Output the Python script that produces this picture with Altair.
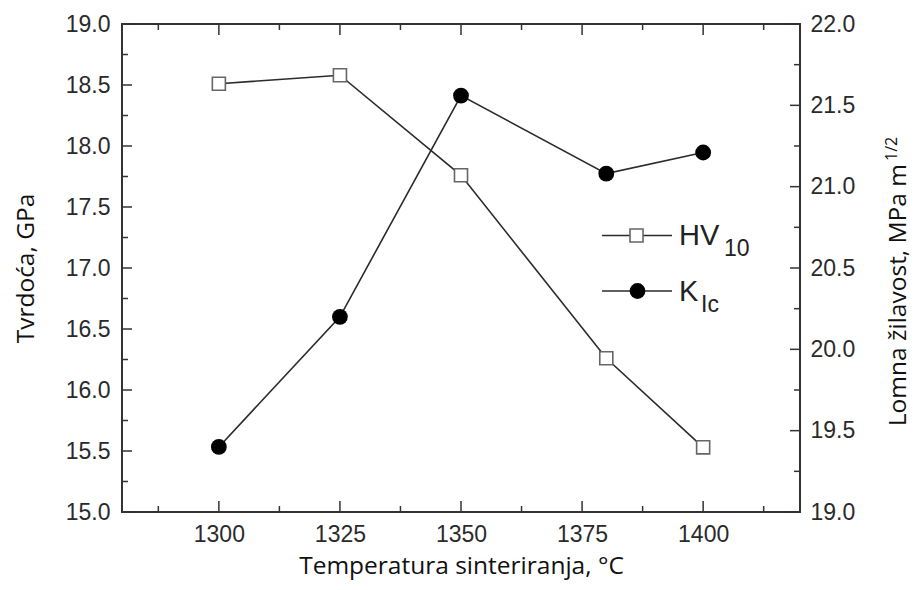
import altair as alt
import pandas as pd

# ---- data ----
temps = [1300, 1325, 1350, 1380, 1400]
hv10 = [18.51, 18.58, 17.76, 16.26, 15.53]
kic = [19.40, 20.20, 21.56, 21.08, 21.21]

x_major = [1300, 1325, 1350, 1375, 1400]
x_minor = [1287.5, 1312.5, 1337.5, 1362.5, 1387.5, 1412.5]
yl_major = [15.0, 15.5, 16.0, 16.5, 17.0, 17.5, 18.0, 18.5, 19.0]
yl_minor = [15.25, 15.75, 16.25, 16.75, 17.25, 17.75, 18.25, 18.75]
yr_major = [19.0, 19.5, 20.0, 20.5, 21.0, 21.5, 22.0]
yr_minor = [19.25, 19.75, 20.25, 20.75, 21.25, 21.75]

W, H = 678, 488
LINE = "#2b2b2b"
TICK = "#333333"
LABEL_FONT = "Liberation Sans"
TITLE_FONT = "Open Sans"
LSIZE = 23
TSIZE = 24.5

df = pd.DataFrame({"t": temps, "hv": hv10, "kic": kic})
one = pd.DataFrame({"a": [0]})

xs = alt.Scale(domain=[1280, 1420], nice=False, zero=False)
yls = alt.Scale(domain=[15, 19], nice=False, zero=False)
yrs = alt.Scale(domain=[19, 22], nice=False, zero=False)

x_axis = alt.Axis(values=x_major, format="d", ticks=False, domain=False, grid=False,
                  labelFont=LABEL_FONT, labelFontSize=LSIZE, labelColor="#2a2a2a",
                  labelPadding=11, title="Temperatura sinteriranja, °C",
                  titleFont=TITLE_FONT, titleFontSize=TSIZE, titleFontWeight="normal",
                  titleColor="#111", titleY=61, titleBaseline="alphabetic")
yl_axis = alt.Axis(values=yl_major, format=".1f", ticks=False, domain=False, grid=False,
                   labelFont=LABEL_FONT, labelFontSize=LSIZE, labelColor="#2a2a2a",
                   labelPadding=12, title="Tvrdoća, GPa",
                   titleFont=TITLE_FONT, titleFontSize=TSIZE, titleFontWeight="normal",
                   titleColor="#111", titleX=-89, titleY=H / 2, titleBaseline="alphabetic",
                   titleAlign="center", titleAngle=270)
yr_axis = alt.Axis(orient="right", values=yr_major, format=".1f", ticks=False, domain=False,
                   grid=False, labelFont=LABEL_FONT, labelFontSize=LSIZE, labelColor="#2a2a2a",
                   labelPadding=10, title="")

X = alt.X("t:Q", scale=xs, axis=x_axis)

# ---- hardness (left axis) ----
hv_line = alt.Chart(df).mark_line(color=LINE, strokeWidth=1.6).encode(
    x=X, y=alt.Y("hv:Q", scale=yls, axis=yl_axis),
)
hv_pts = alt.Chart(df).mark_point(shape="square", filled=True, fill="white",
                                  stroke="#666", strokeWidth=1.6, size=170, opacity=1).encode(
    x=X, y=alt.Y("hv:Q", scale=yls, axis=yl_axis),
)

def hticks(vals, x0, x1, field, scale, axis):
    return alt.Chart(pd.DataFrame({field: vals})).mark_rule(color=TICK, strokeWidth=1.5).encode(
        y=alt.Y(f"{field}:Q", scale=scale, axis=axis),
        x=alt.value(x0), x2=alt.value(x1),
    )

def vticks(vals, y0, y1):
    return alt.Chart(pd.DataFrame({"t": vals})).mark_rule(color=TICK, strokeWidth=1.5).encode(
        x=X, y=alt.value(y0), y2=alt.value(y1),
    )

left_ticks = [hticks(yl_major, 0, 10, "hv", yls, yl_axis),
              hticks(yl_minor, 0, 6, "hv", yls, yl_axis)]
x_ticks = [vticks(x_major, H, H - 11), vticks(x_minor, H, H - 6),
           vticks(x_major, 0, 11), vticks(x_minor, 0, 6)]

# ---- toughness (right axis) ----
k_line = alt.Chart(df).mark_line(color=LINE, strokeWidth=1.6).encode(
    x=X, y=alt.Y("kic:Q", scale=yrs, axis=yr_axis),
)
k_pts = alt.Chart(df).mark_point(shape="circle", filled=True, color="#000",
                                 size=250, opacity=1).encode(
    x=X, y=alt.Y("kic:Q", scale=yrs, axis=yr_axis),
)
right_ticks = [hticks(yr_major, W - 10, W, "kic", yrs, yr_axis),
               hticks(yr_minor, W - 6, W, "kic", yrs, yr_axis)]

# ---- right axis title (with superscript) ----
def txt(s, x, y, size, font=TITLE_FONT, align="left", angle=0, color="#111"):
    return alt.Chart(one).mark_text(font=font, fontSize=size, align=align,
                                    baseline="alphabetic", angle=angle, color=color).encode(
        x=alt.value(x), y=alt.value(y), text=alt.value(s))

rtitle = txt("Lomna žilavost, MPa m", 784, 140, TSIZE, align="right", angle=270)
rsup = txt("1/2", 775, 137, 16, align="left", angle=270)

# ---- legend ----
leg_hv_line = alt.Chart(one).mark_rule(color=LINE, strokeWidth=1.6).encode(
    x=alt.value(480), x2=alt.value(550), y=alt.value(211.5))
leg_hv_pt = alt.Chart(one).mark_point(shape="square", filled=True, fill="white",
                                      stroke="#666", strokeWidth=1.6, size=170, opacity=1).encode(
    x=alt.value(514.5), y=alt.value(211.5))
leg_k_line = alt.Chart(one).mark_rule(color=LINE, strokeWidth=1.3).encode(
    x=alt.value(480), x2=alt.value(550), y=alt.value(267))
leg_k_pt = alt.Chart(one).mark_point(shape="circle", filled=True, color="#000",
                                     size=250, opacity=1).encode(
    x=alt.value(515.5), y=alt.value(267))
leg_texts = [
    txt("HV", 557, 221, 29, font=LABEL_FONT, color="#222"),
    txt("10", 602, 232, 23, font=LABEL_FONT, color="#222"),
    txt("K", 557, 277, 29, font=LABEL_FONT, color="#222"),
    txt("Ic", 579, 288, 23, font=LABEL_FONT, color="#222"),
]

left = alt.layer(hv_line, *left_ticks, *x_ticks, hv_pts, rtitle, rsup,
                 leg_hv_line, leg_hv_pt, leg_k_line, leg_k_pt, *leg_texts)
right = alt.layer(k_line, *right_ticks, k_pts)

chart = alt.layer(left, right).resolve_scale(y="independent").properties(
    width=W, height=H,
    autosize=alt.AutoSizeParams(type="none"),
    padding={"left": 114, "top": 16, "right": 114, "bottom": 70},
).configure_view(stroke="#333", strokeWidth=2)

chart.save("out.html", embed_options={"renderer": "svg", "actions": False})
